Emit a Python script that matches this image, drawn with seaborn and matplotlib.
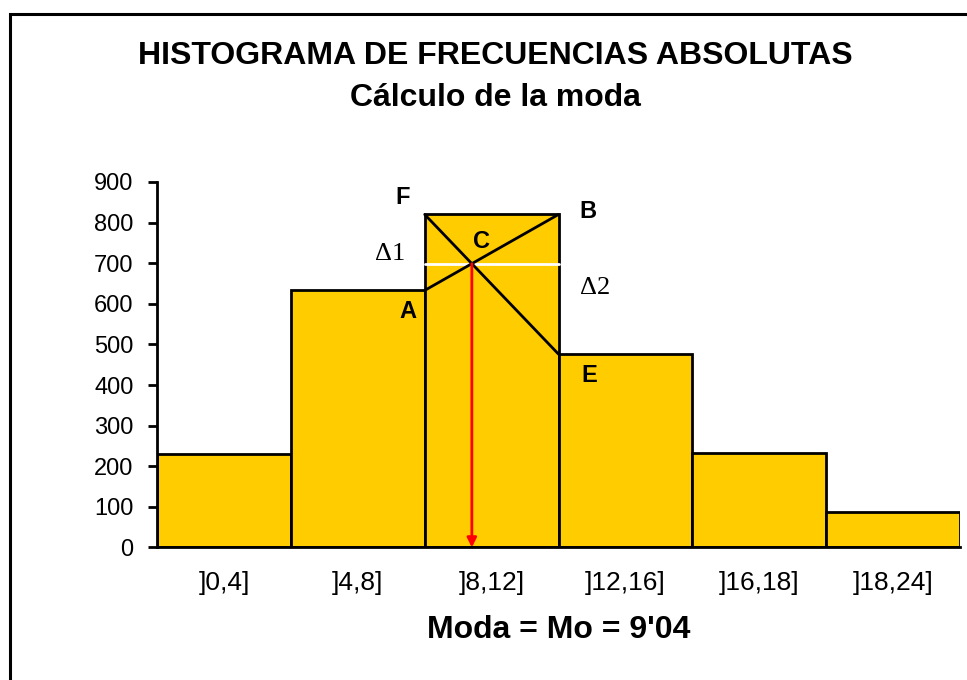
import matplotlib
matplotlib.use("Agg")
import numpy as np
import pandas as pd
import seaborn as sns
from matplotlib import pyplot as plt
from matplotlib.patches import Rectangle

# class intervals and absolute frequencies
intervalos = [']0,4]', ']4,8]', ']8,12]', ']12,16]', ']16,18]', ']18,24]']
frecuencias = [229, 633, 820, 476, 233, 88]
modal = 2  # index of the modal class

# labels of the geometric construction (x, y baseline in data units)
puntos = ['F', 'A', 'B', 'C', 'E']
puntos_x = [1.338, 1.372, 2.720, 1.921, 2.731]
puntos_y = [846, 565, 812, 738, 408]
deltas = ['Δ1', 'Δ2']
deltas_x = [1.241, 2.773]
deltas_y = [707, 624]


def main():
    sns.set_style("ticks")
    plt.rcParams['font.family'] = ['Liberation Sans', 'DejaVu Sans']
    for k in ['text.color', 'axes.labelcolor', 'xtick.color', 'ytick.color']:
        plt.rcParams[k] = 'black'

    fig = plt.figure(figsize=(9.67, 6.8), dpi=100)
    ax = fig.add_axes([0.1624, 0.1949, 0.8304, 0.5375])

    lw = 2.0
    df = pd.DataFrame({"Intervalo": intervalos, "Frecuencia": frecuencias})
    sns.barplot(data=df, x="Intervalo", y="Frecuencia", color="#FFCC00", saturation=1,
                width=1, edgecolor="black", linewidth=lw, ax=ax)

    ax.set_xlim(-0.5, len(intervalos) - 0.5)
    ax.set_ylim(0, 900)
    ax.set_yticks(np.arange(0, 901, 100))
    for s in ['top', 'right']:
        ax.spines[s].set_visible(False)
    for s in ['left', 'bottom']:
        ax.spines[s].set_linewidth(lw)
        ax.spines[s].set_color('black')
    ax.tick_params(axis='y', direction='out', length=6.5, width=lw, pad=10.5, labelsize=17)
    ax.tick_params(axis='x', length=0, pad=17, labelsize=19)
    ax.set_ylabel("")
    ax.set_xlabel("Moda = Mo = 9'04", fontsize=23, fontweight='bold', labelpad=14)

    # construction of the mode inside the modal class
    izq = modal - 0.5
    der = modal + 0.5
    f_ant = frecuencias[modal - 1]
    f_mod = frecuencias[modal]
    f_sig = frecuencias[modal + 1]
    d1 = f_mod - f_ant
    d2 = f_mod - f_sig
    t = d1 / (d1 + d2)
    xc = izq + t
    yc = f_ant + d1 * t

    ax.plot([izq, der], [yc, yc], color='white', lw=lw, zorder=3)
    ax.plot([izq, der], [f_ant, f_mod], color='black', lw=lw, zorder=4)
    ax.plot([izq, der], [f_mod, f_sig], color='black', lw=lw, zorder=4)
    ax.annotate("", xy=(xc, 0), xytext=(xc, yc),
                arrowprops=dict(arrowstyle='-|>', color='red', lw=lw,
                                mutation_scale=14, shrinkA=0, shrinkB=0),
                zorder=5)

    for lab, x, y in zip(puntos, puntos_x, puntos_y):
        ax.text(x, y, lab, ha='center', va='baseline', fontsize=17, fontweight='bold',
                clip_on=False)
    for lab, x, y in zip(deltas, deltas_x, deltas_y):
        ax.text(x, y, lab, ha='center', va='baseline', fontsize=19,
                family=['Liberation Serif', 'DejaVu Serif'], clip_on=False)

    fig.text(0.512, 1 - 64 / 680, "HISTOGRAMA DE FRECUENCIAS ABSOLUTAS",
             ha='center', va='baseline', fontsize=23, fontweight='bold')
    fig.text(0.512, 1 - 106 / 680, "Cálculo de la moda",
             ha='center', va='baseline', fontsize=23, fontweight='bold')

    # outer frame of the chart area
    fig.add_artist(Rectangle((9.5 / 967, -0.1), 1.2, (1 - 13.5 / 680) + 0.1,
                             transform=fig.transFigure, fill=False,
                             edgecolor='black', linewidth=2.2))

    fig.savefig("out.png", dpi=100)


if __name__ == "__main__":
    main()
